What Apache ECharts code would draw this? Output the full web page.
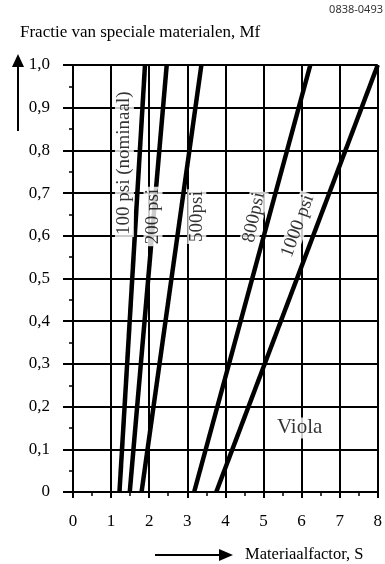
<!DOCTYPE html>
<html>
<head>
<meta charset="utf-8">
<script src="https://cdn.jsdelivr.net/npm/echarts@6/dist/echarts.min.js"></script>
<style>
html,body{margin:0;padding:0;background:#fff;}
#chart{width:385px;height:564px;}
</style>
</head>
<body>
<div id="chart"></div>
<script>
// ---- data ----
const seriesNames = ['100 psi', '200 psi', '500 psi', '800 psi', '1000 psi'];
const mfValues = [0, 1];                       // Mf at start / end of each line
const sAtMf0 = [1.22, 1.49, 1.80, 3.18, 3.76]; // S where Mf = 0
const sAtMf1 = [1.89, 2.46, 3.37, 6.23, 8.00]; // S where Mf = 1
const labelTexts = ['100 psi (nominaal)', '200 psi', '500psi', '800psi', '1000 psi', 'Viola'];
const labelS = [1.35, 2.10, 3.25, 4.75, 5.90, 5.95];
const labelMf = [0.77, 0.645, 0.645, 0.643, 0.623, 0.15];
const xTickLabels = ['0', '1', '2', '3', '4', '5', '6', '7', '8'];
const yTickLabels = ['0', '0,1', '0,2', '0,3', '0,4', '0,5', '0,6', '0,7', '0,8', '0,9', '1,0'];
const titleText = 'Fractie van speciale materialen, Mf';
const xAxisName = 'Materiaalfactor, S';
const codeText = '0838-0493';

// ---- styles ----
const labelAngles = [90, 90, 90, 78, 70, 0];
const labelSizes = [19, 19, 19, 19, 19, 21];
const SERIF = '"Liberation Serif", "Times New Roman", serif';

const chart = echarts.init(document.getElementById('chart'), null, {renderer: 'canvas'});

const lineSeries = seriesNames.map((name, i) => ({
  name: name,
  type: 'line',
  data: [[sAtMf0[i], mfValues[0]], [sAtMf1[i], mfValues[1]]],
  symbol: 'none',
  lineStyle: {color: '#000', width: 4.5},
  z: 3,
  silent: true,
  animation: false
}));

const labelSeries = {
  type: 'scatter',
  symbolSize: 1,
  itemStyle: {color: 'rgba(0,0,0,0)'},
  data: labelTexts.map((t, i) => ({
    value: [labelS[i], labelMf[i]],
    label: {rotate: labelAngles[i], fontSize: labelSizes[i]}
  })),
  label: {
    show: true,
    position: 'inside',
    formatter: p => labelTexts[p.dataIndex],
    color: '#000',
    fontFamily: SERIF,
    backgroundColor: '#fff',
    padding: [0, 2]
  },
  z: 10,
  silent: true,
  animation: false
};

const option = {
  backgroundColor: '#fff',
  animation: false,
  grid: {left: 73, right: 4, top: 65, bottom: 72, containLabel: false},
  xAxis: {
    type: 'value', min: 0, max: 8, interval: 1,
    axisLine: {show: true, lineStyle: {color: '#000', width: 2}},
    axisTick: {show: true, length: 6, lineStyle: {color: '#000', width: 2}},
    minorTick: {show: true, splitNumber: 2, length: 4, lineStyle: {color: '#000', width: 1.5}},
    splitLine: {show: true, lineStyle: {color: '#000', width: 2}},
    axisLabel: {
      margin: 21, fontFamily: SERIF, fontSize: 17, color: '#000',
      formatter: v => xTickLabels[Math.round(v)]
    }
  },
  yAxis: {
    type: 'value', min: 0, max: 1, interval: 0.1,
    axisLine: {show: true, lineStyle: {color: '#000', width: 2}},
    axisTick: {show: true, length: 10, lineStyle: {color: '#000', width: 2}},
    minorTick: {show: true, splitNumber: 2, length: 4, lineStyle: {color: '#000', width: 1.5}},
    splitLine: {show: true, lineStyle: {color: '#000', width: 2}},
    axisLabel: {
      margin: 23, fontFamily: SERIF, fontSize: 17, color: '#000',
      formatter: v => yTickLabels[Math.round(v * 10)]
    }
  },
  graphic: [
    {type: 'text', left: 20, top: 24, style: {text: titleText, font: '17px ' + SERIF, fill: '#000'}},
    {type: 'text', right: 2, top: 4, style: {text: codeText, font: '11px "Noto Sans", sans-serif', fill: '#333'}},
    {type: 'text', left: 245, top: 546, style: {text: xAxisName, font: '16.5px ' + SERIF, fill: '#000'}},
    // y arrow
    {type: 'line', shape: {x1: 18, y1: 66, x2: 18, y2: 131}, style: {stroke: '#000', lineWidth: 2}},
    {type: 'polygon', shape: {points: [[18, 54], [12, 67], [24, 67]]}, style: {fill: '#000'}},
    // x arrow
    {type: 'line', shape: {x1: 155, y1: 555, x2: 221, y2: 555}, style: {stroke: '#000', lineWidth: 2}},
    {type: 'polygon', shape: {points: [[233, 555], [219, 549], [219, 561]]}, style: {fill: '#000'}}
  ],
  series: lineSeries.concat([labelSeries])
};

chart.setOption(option);
</script>
</body>
</html>
